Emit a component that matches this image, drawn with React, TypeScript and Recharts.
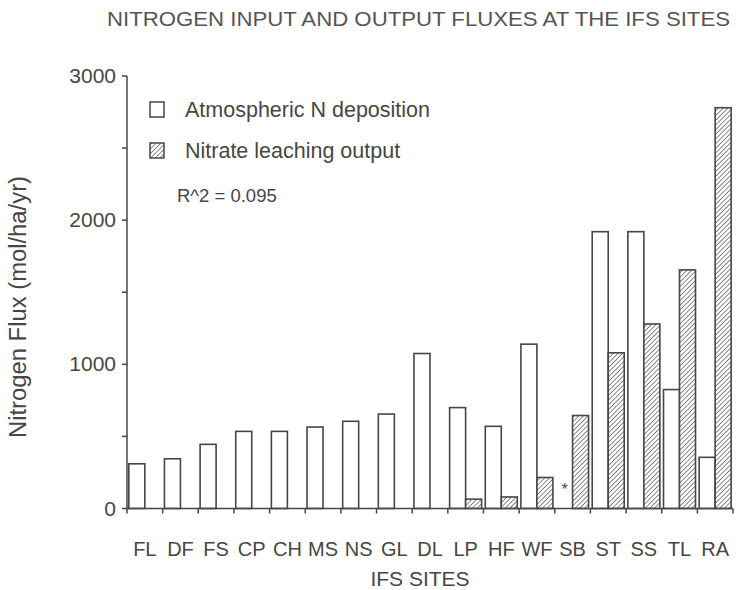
import { Bar, BarChart, XAxis, YAxis } from "recharts";

const sites = ["FL", "DF", "FS", "CP", "CH", "MS", "NS", "GL", "DL", "LP", "HF", "WF", "SB", "ST", "SS", "TL", "RA"];
// atmospheric deposition (SB has no value, marked with *)
const deposition = [310, 345, 445, 535, 535, 565, 605, 655, 1075, 700, 570, 1140, 0, 1920, 1920, 825, 355];
const leaching = [0, 0, 0, 0, 0, 0, 0, 0, 0, 65, 80, 215, 645, 1080, 1280, 1655, 2780];
const missingDeposition = ["SB"];
const yTicks = [0, 500, 1000, 1500, 2000, 2500, 3000];

const data = sites.map((site, i) => ({
  site,
  deposition: deposition[i],
  leaching: leaching[i],
}));

const W = 736;
const H = 590;
const PLOT_LEFT = 127;
const PLOT_RIGHT = 733;
const PLOT_TOP = 76;
const PLOT_BOTTOM = 508.5;
const BAND = (PLOT_RIGHT - PLOT_LEFT) / sites.length;

const INK = "#464646";
const FONT = '"Liberation Sans", Arial, Helvetica, sans-serif';

function SiteTick(props: any) {
  const { x, y, payload, index } = props;
  const left = x - BAND / 2;
  return (
    <g>
      <line x1={left} y1={y} x2={left} y2={y + 5} stroke={INK} strokeWidth={1.5} />
      {index === sites.length - 1 && (
        <line x1={x + BAND / 2} y1={y} x2={x + BAND / 2} y2={y + 5} stroke={INK} strokeWidth={1.5} />
      )}
      <text x={x} y={y + 47} textAnchor="middle" fontSize={20} fill={INK} fontFamily={FONT}>
        {payload.value}
      </text>
    </g>
  );
}

function FluxTick(props: any) {
  const { x, y, payload } = props;
  if (payload.value % 1000 !== 0) return null;
  return (
    <text x={x - 1} y={y} dy={7} textAnchor="end" fontSize={21} fill={INK} fontFamily={FONT}>
      {payload.value}
    </text>
  );
}

function DepositionBar(props: any) {
  const { x, y, width, height, payload } = props;
  if (missingDeposition.includes(payload.site)) {
    return (
      <text x={x + width / 2} y={y - 14} textAnchor="middle" fontSize={16} fill={INK} fontFamily={FONT}>
        *
      </text>
    );
  }
  return <rect x={x} y={y} width={width} height={height} fill="#fff" stroke={INK} strokeWidth={1.6} />;
}

function LeachingBar(props: any) {
  const { x, y, width, height } = props;
  if (!height || height <= 0) return null;
  return <rect x={x} y={y} width={width} height={height} fill="url(#hatch)" stroke={INK} strokeWidth={1.6} />;
}

export default function App() {
  return (
    <div style={{ position: "absolute", left: 0, top: 0, width: W, height: H, background: "#fff" }}>
      <svg width={0} height={0} style={{ position: "absolute" }}>
        <defs>
          <pattern id="hatch" width={3.3} height={3.3} patternUnits="userSpaceOnUse" patternTransform="rotate(45)">
            <rect width={3.3} height={3.3} fill="#fff" />
            <line x1={0} y1={0} x2={0} y2={3.3} stroke="#5a5a5a" strokeWidth={1.4} />
          </pattern>
        </defs>
      </svg>
      <BarChart
        width={W}
        height={H}
        data={data}
        margin={{ top: PLOT_TOP, right: W - PLOT_RIGHT, bottom: 0, left: 0 }}
        barGap={0}
        barCategoryGap={1.8}
      >
        <XAxis
          dataKey="site"
          height={H - PLOT_BOTTOM}
          interval={0}
          tickLine={false}
          tickSize={0}
          tickMargin={0}
          axisLine={{ stroke: INK, strokeWidth: 1.5 }}
          tick={<SiteTick />}
        />
        <YAxis
          width={PLOT_LEFT}
          domain={[0, 3000]}
          ticks={yTicks}
          interval={0}
          tickSize={5}
          tickMargin={5}
          axisLine={{ stroke: INK, strokeWidth: 1.5 }}
          tickLine={{ stroke: INK, strokeWidth: 1.5 }}
          tick={<FluxTick />}
        />
        <Bar dataKey="deposition" isAnimationActive={false} shape={<DepositionBar />} />
        <Bar dataKey="leaching" isAnimationActive={false} shape={<LeachingBar />} />
      </BarChart>
      <svg width={W} height={H} style={{ position: "absolute", left: 0, top: 0, pointerEvents: "none" }}>
        <text x={107} y={26} fontSize={21} fill="#555" fontFamily={FONT} textLength={623} lengthAdjust="spacingAndGlyphs">
          NITROGEN INPUT AND OUTPUT FLUXES AT THE IFS SITES
        </text>
        <text
          x={18}
          y={307}
          transform="rotate(-90 18 307)"
          textAnchor="middle"
          dominantBaseline="central"
          fontSize={23}
          fill={INK}
          fontFamily={FONT}
          textLength={262}
          lengthAdjust="spacingAndGlyphs"
        >
          Nitrogen Flux (mol/ha/yr)
        </text>
        <rect x={150} y={102} width={14} height={15} fill="#fff" stroke={INK} strokeWidth={1.5} />
        <text x={185} y={117} fontSize={21.5} fill={INK} fontFamily={FONT}>
          Atmospheric N deposition
        </text>
        <rect x={150} y={143} width={14} height={15} fill="url(#hatch)" stroke={INK} strokeWidth={1.5} />
        <text x={185} y={158} fontSize={21.5} fill={INK} fontFamily={FONT}>
          Nitrate leaching output
        </text>
        <text x={177} y={202} fontSize={18.5} fill={INK} fontFamily={FONT}>
          R^2 = 0.095
        </text>
        <text x={420} y={586} textAnchor="middle" fontSize={21} fill={INK} fontFamily={FONT}>
          IFS SITES
        </text>
      </svg>
    </div>
  );
}
